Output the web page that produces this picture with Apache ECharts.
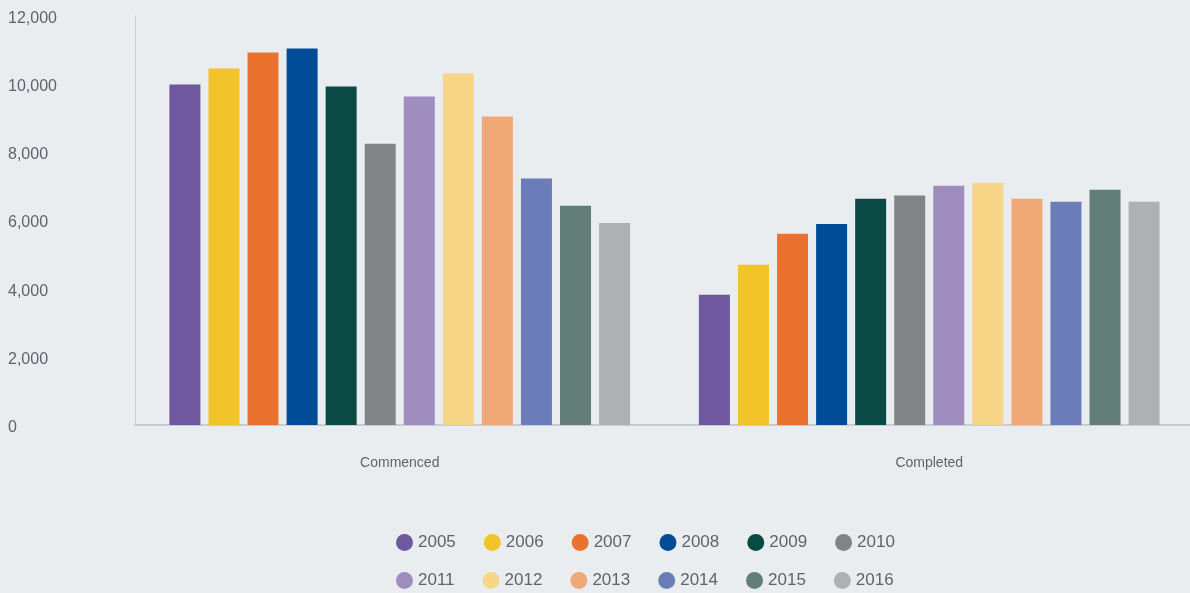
<!DOCTYPE html>
<html>
<head>
<meta charset="utf-8">
<script src="https://cdn.jsdelivr.net/npm/echarts@6/dist/echarts.min.js"></script>
<style>
  html, body { margin: 0; padding: 0; background: #e9edf0; }
  #chart { width: 1190px; height: 593px; }
</style>
</head>
<body>
<div id="chart"></div>
<script>
// Dwellings commenced and completed, by year
const categories = ['Commenced', 'Completed'];
const years = ['2005', '2006', '2007', '2008', '2009', '2010', '2011', '2012', '2013', '2014', '2015', '2016'];
const commenced = [9990, 10460, 10930, 11050, 9930, 8250, 9640, 10310, 9050, 7230, 6430, 5930];
const completed = [3820, 4700, 5610, 5900, 6640, 6730, 7020, 7110, 6640, 6550, 6900, 6550];
const yTicks = [0, 2000, 4000, 6000, 8000, 10000, 12000];

const colors = ['#6f58a0', '#f2c42a', '#e9722f', '#004c97', '#0a4a44', '#828387',
                '#9f8dc0', '#f7d688', '#f0a877', '#6a7db8', '#637d79', '#afb0b3'];

const font = '"Liberation Sans", Arial, sans-serif';
const textColor = '#60646a';

const series = years.map((y, i) => ({
  name: y,
  type: 'bar',
  data: [commenced[i], completed[i]],
  barWidth: 31,
  barGap: '26%',
  itemStyle: { color: colors[i] },
  emphasis: { disabled: true }
}));

const legendBase = {
  orient: 'horizontal',
  left: 396,
  padding: 0,
  icon: 'circle',
  itemWidth: 17,
  itemHeight: 17,
  itemGap: 28,
  selectedMode: false,
  textStyle: { color: textColor, fontSize: 17, fontFamily: font }
};

const chart = echarts.init(document.getElementById('chart'), null, { renderer: 'canvas' });
chart.setOption({
  backgroundColor: '#e9edf0',
  animation: false,
  color: colors,
  legend: [
    Object.assign({}, legendBase, { top: 534, data: years.slice(0, 6) }),
    Object.assign({}, legendBase, { top: 572, data: years.slice(6) })
  ],
  grid: { left: 135, width: 1059, top: 16, bottom: 168, containLabel: false, outerBoundsMode: 'none' },
  xAxis: {
    type: 'category',
    data: categories,
    axisLine: { show: true, lineStyle: { color: '#c8cbcf', width: 2 } },
    axisTick: { show: false },
    axisLabel: { margin: 31, color: textColor, fontSize: 14, fontFamily: font }
  },
  yAxis: {
    type: 'value',
    min: 0,
    max: yTicks[yTicks.length - 1],
    interval: 2000,
    splitLine: { show: false },
    axisTick: { show: false },
    axisLine: { show: true, lineStyle: { color: '#c8cbcf', width: 1 } },
    axisLabel: {
      align: 'left',
      margin: 127,
      formatter: v => '{t|' + v.toLocaleString('en-US') + '}',
      rich: {
        t: {
          color: textColor,
          fontSize: 16,
          fontFamily: font,
          padding: [5, 0, 0, 0]
        }
      }
    }
  },
  series: series
});
</script>
</body>
</html>
